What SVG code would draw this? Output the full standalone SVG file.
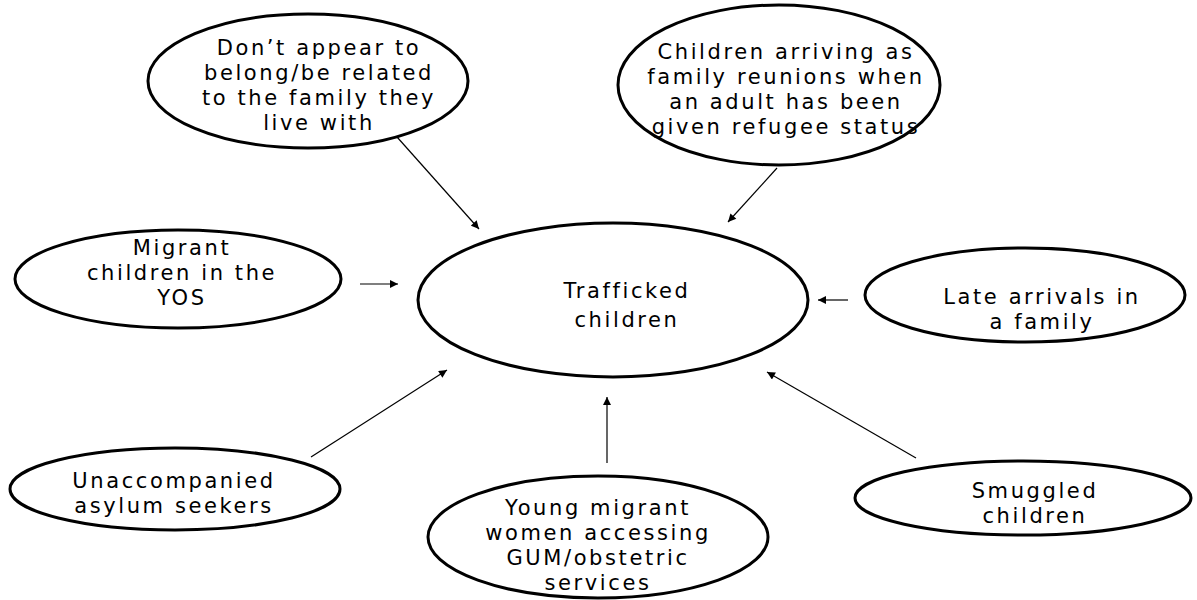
<svg xmlns="http://www.w3.org/2000/svg" width="1197" height="600" viewBox="0 0 1197 600">
<style>
.node ellipse{fill:#fff;stroke:#000;stroke-width:3}
.node text{font-family:"DejaVu Sans","Liberation Sans",sans-serif;font-size:21px;letter-spacing:2.6px;fill:#000;text-anchor:middle}
#connectors line{stroke:#000;stroke-width:1.2;marker-end:url(#ah)}
</style>
<defs>
<marker id="ah" viewBox="0 0 10 10" refX="10" refY="5" markerWidth="10" markerHeight="8" markerUnits="userSpaceOnUse" orient="auto"><path d="M0,0 L10,5 L0,10 z" fill="#000"/></marker>
</defs>
<rect width="1197" height="600" fill="#fff"/>
<g id="connectors">
<line x1="389" y1="128" x2="479" y2="229"/>
<line x1="777" y1="168" x2="728" y2="222"/>
<line x1="360" y1="284" x2="398" y2="284"/>
<line x1="848" y1="300" x2="818" y2="300"/>
<line x1="311" y1="457" x2="447" y2="370"/>
<line x1="607" y1="463" x2="607" y2="397"/>
<line x1="916" y1="458" x2="767" y2="372"/>
</g>
<g id="n-belong" class="node">
<ellipse cx="308" cy="81" rx="160" ry="67"/>
<text x="319" y="55">Don’t appear to</text>
<text x="319" y="80">belong/be related</text>
<text x="319" y="105">to the family they</text>
<text x="319" y="130">live with</text>
</g>
<g id="n-reunion" class="node">
<ellipse cx="779" cy="85" rx="161" ry="80"/>
<text x="786" y="59">Children arriving as</text>
<text x="786" y="84">family reunions when</text>
<text x="786" y="109">an adult has been</text>
<text x="786" y="134">given refugee status</text>
</g>
<g id="n-yos" class="node">
<ellipse cx="178" cy="279" rx="163" ry="49"/>
<text x="182" y="255">Migrant</text>
<text x="182" y="280">children in the</text>
<text x="182" y="305">YOS</text>
</g>
<g id="n-trafficked" class="node">
<ellipse cx="613" cy="300" rx="195" ry="77"/>
<text x="627" y="298">Trafficked</text>
<text x="627" y="327">children</text>
</g>
<g id="n-late" class="node">
<ellipse cx="1025" cy="295" rx="160" ry="47"/>
<text x="1042" y="304">Late arrivals in</text>
<text x="1042" y="329">a family</text>
</g>
<g id="n-unaccompanied" class="node">
<ellipse cx="175" cy="489" rx="165" ry="41"/>
<text x="174" y="488">Unaccompanied</text>
<text x="174" y="513">asylum seekers</text>
</g>
<g id="n-gum" class="node">
<ellipse cx="598" cy="537" rx="170" ry="61"/>
<text x="598" y="515">Young migrant</text>
<text x="598" y="540">women accessing</text>
<text x="598" y="565">GUM/obstetric</text>
<text x="598" y="590">services</text>
</g>
<g id="n-smuggled" class="node">
<ellipse cx="1023" cy="498" rx="168" ry="37"/>
<text x="1035" y="498">Smuggled</text>
<text x="1035" y="523">children</text>
</g>
</svg>
